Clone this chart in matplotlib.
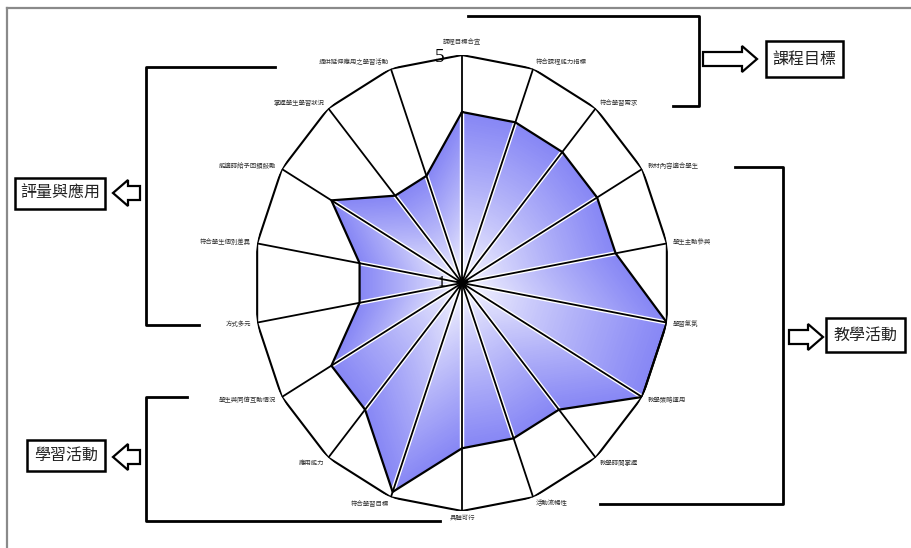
import numpy as np
import matplotlib
matplotlib.use("Agg")
import matplotlib.pyplot as plt
from matplotlib.patches import Polygon, Rectangle
from matplotlib.lines import Line2D

plt.rcParams['font.family'] = ['Noto Sans CJK TC', 'DejaVu Sans']

# data
items = ["課程目標合宜", "符合課程能力指標", "符合學習需求", "教材內容適合學生",
         "學生主動參與", "學習氣氛", "教學策略運用", "教學時間掌握",
         "活動流暢性", "具體可行", "符合學習目標", "應用能力",
         "學生與同儕互動情況", "方式多元", "符合學生個別差異", "能適時給予回饋鼓勵",
         "掌握學生學習狀況", "提供延伸應用之學習活動"]
scores = [4.0, 4.0, 4.0, 4.0, 4.0, 5.0, 5.0, 3.9, 3.9, 3.9,
          4.9, 3.9, 3.9, 3.0, 3.0, 3.9, 3.0, 3.0]
groups = ["課程目標", "教學活動", "學習活動", "評量與應用"]
r_min, r_max = 1, 5

W, H = 911, 548
fig = plt.figure(figsize=(W / 100, H / 100), dpi=100)

def fx(x):
    return x / W

def fy(y):
    return 1 - y / H

# radar axes (slightly taller than wide, as in the original)
cx, cy, rx, ry = 462, 283, 208, 228
ax = fig.add_axes([fx(cx - rx), fy(cy + ry), 2 * rx / W, 2 * ry / H], projection='polar')
ax.set_aspect('auto')
ax.set_theta_zero_location('N')
ax.set_theta_direction(-1)
ax.set_ylim(r_min, r_max)
ax.grid(False)
ax.set_xticks([])
ax.set_yticks([])
ax.spines['polar'].set_visible(False)
ax.patch.set_alpha(0)

n = len(items)
ang = np.linspace(0, 2 * np.pi, n, endpoint=False)
ang_c = np.append(ang, ang[0])
vals = np.array(scores)
vals_c = np.append(vals, vals[0])

# gradient fill: white centre to blue edge
blue = np.array([0.53, 0.53, 0.96])
white = np.array([1.0, 1.0, 1.0])
steps = 70
for i in range(steps, 0, -1):
    k = i / steps
    c = white + (blue - white) * (k ** 0.8)
    ax.fill(ang_c, r_min + k * (vals_c - r_min), color=c, lw=0, zorder=1)

# spokes
for a in ang:
    ax.plot([a, a], [r_min, r_max], color='white', lw=3.2, zorder=2, solid_capstyle='butt')
    ax.plot([a, a], [r_min, r_max], color='black', lw=1.3, zorder=3)

# outer ring and data outline
ax.plot(ang_c, [r_max] * (n + 1), color='black', lw=1.5, zorder=3)
ax.plot(ang_c, vals_c, color='black', lw=1.6, zorder=4)
ax.plot([0], [r_min], marker='*', color='black', ms=9, zorder=5)

# item labels
for a, lab in zip(ang, items):
    s = np.sin(a)
    if abs(s) < 0.05:
        ha = 'center'
    elif s > 0:
        ha = 'left'
    else:
        ha = 'right'
    off = 0.22 if abs(a) < 1e-6 else 0.12
    ax.text(a, r_max + off, lab, fontsize=4.6, ha=ha, va='center', color='#333333', zorder=6)

# scale marks
fig.text(fx(440), fy(58), "5", fontsize=14, family='Liberation Serif', ha='center', va='center')
fig.text(fx(441), fy(283), "1", fontsize=11, family='Liberation Serif', ha='center', va='center',
         zorder=10)

# frame
fig.add_artist(Line2D([fx(7), 1], [fy(8), fy(8)], transform=fig.transFigure, color='#8a8a8a', lw=1.6))
fig.add_artist(Line2D([fx(7), fx(7)], [fy(8), 0], transform=fig.transFigure, color='#8a8a8a', lw=1.6))

def bracket(xs, ys):
    fig.add_artist(Line2D([fx(x) for x in xs], [fy(y) for y in ys],
                          transform=fig.transFigure, color='black', lw=2))

def arrow(x0, x1, y, right=True):
    head = 15
    sh, hh = 7, 13
    if right:
        pts = [(x0, y - sh), (x1 - head, y - sh), (x1 - head, y - hh), (x1, y),
               (x1 - head, y + hh), (x1 - head, y + sh), (x0, y + sh)]
    else:
        pts = [(x1, y - sh), (x0 + head, y - sh), (x0 + head, y - hh), (x0, y),
               (x0 + head, y + hh), (x0 + head, y + sh), (x1, y + sh)]
    fig.add_artist(Polygon([(fx(px), fy(py)) for px, py in pts], closed=True,
                           transform=fig.transFigure, fc='white', ec='black', lw=1.6))

def box(x0, y0, x1, y1, txt):
    fig.add_artist(Rectangle((fx(x0), fy(y1)), fx(x1) - fx(x0), fy(y0) - fy(y1),
                             transform=fig.transFigure, fc='white', ec='black', lw=1.8))
    fig.text(fx((x0 + x1) / 2), fy((y0 + y1) / 2), txt, fontsize=11.5,
             ha='center', va='center', color='#222222')

# 課程目標
bracket([468, 699, 699, 673], [16, 16, 106, 106])
arrow(703, 757, 59, right=True)
box(766, 41, 843, 77, groups[0])

# 教學活動
bracket([735, 783, 783, 600], [167, 167, 504, 504])
arrow(789, 823, 337, right=True)
box(826, 318, 905, 352, groups[1])

# 學習活動
bracket([187, 146, 146, 440], [397, 397, 521, 521])
arrow(113, 140, 457, right=False)
box(27, 440, 105, 471, groups[2])

# 評量與應用
bracket([275, 146, 146, 199], [67, 67, 325, 325])
arrow(113, 140, 193, right=False)
box(15, 178, 105, 209, groups[3])

fig.savefig("out.png", dpi=100, facecolor='white')
